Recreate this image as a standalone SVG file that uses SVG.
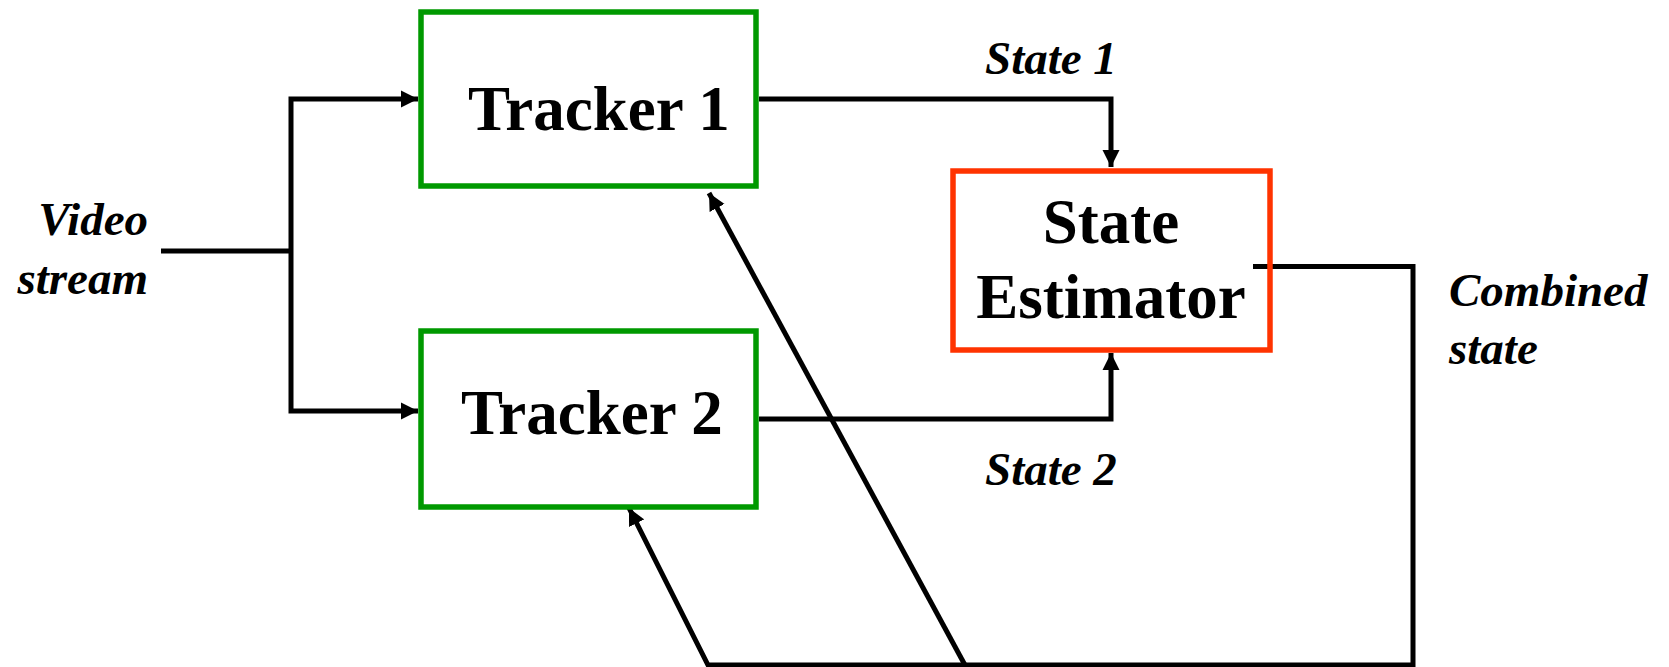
<svg xmlns="http://www.w3.org/2000/svg" width="1669" height="667" viewBox="0 0 1669 667">
<style>
.box{fill:none;stroke-width:5.5}
.trk{stroke:#009900}
.est{stroke:#FF3300}
.t{font-family:"Liberation Serif","Times New Roman",serif;font-weight:bold;font-size:63px;fill:#000}
.l{font-family:"Liberation Serif","Times New Roman",serif;font-weight:bold;font-style:italic;font-size:47px;fill:#000}
.c{fill:none;stroke:#000;stroke-width:5;stroke-linejoin:miter}
</style>
<defs>
<marker id="ah" markerUnits="userSpaceOnUse" markerWidth="18" markerHeight="18" viewBox="0 0 18 18" refX="17" refY="9" orient="auto">
<path d="M0,0.5 L17,9 L0,17.5 z" fill="#000"/>
</marker>
</defs>
<rect width="1669" height="667" fill="#fff"/>
<g id="connectors">
<path class="c" d="M161,251 H291"/>
<path class="c" d="M291,251 V99 H418" marker-end="url(#ah)"/>
<path class="c" d="M291,251 V411 H418" marker-end="url(#ah)"/>
<path class="c" d="M759,99 H1111 V167" marker-end="url(#ah)"/>
<path class="c" d="M759,419 H1111 V353" marker-end="url(#ah)"/>
<path class="c" d="M1253,266.5 H1413 V665 H708 L629,508" marker-end="url(#ah)"/>
<path class="c" d="M966,667 L709,193" marker-end="url(#ah)"/>
</g>
<g id="tracker1">
<rect class="box trk" x="421" y="12" width="335" height="174"/>
<text class="t" x="468" y="130">Tracker 1</text>
</g>
<g id="tracker2">
<rect class="box trk" x="421" y="331" width="335" height="176"/>
<text class="t" x="461" y="434">Tracker 2</text>
</g>
<g id="estimator">
<rect class="box est" x="953" y="171" width="317" height="179"/>
<text class="t" x="1111" y="243" text-anchor="middle">State</text>
<text class="t" x="1111" y="318" text-anchor="middle">Estimator</text>
</g>
<g id="labels">
<text class="l" x="148" y="235" text-anchor="end">Video</text>
<text class="l" x="148" y="294" text-anchor="end">stream</text>
<text class="l" x="985" y="74">State 1</text>
<text class="l" x="985" y="485">State 2</text>
<text class="l" x="1449" y="306">Combined</text>
<text class="l" x="1449" y="364">state</text>
</g>
</svg>
